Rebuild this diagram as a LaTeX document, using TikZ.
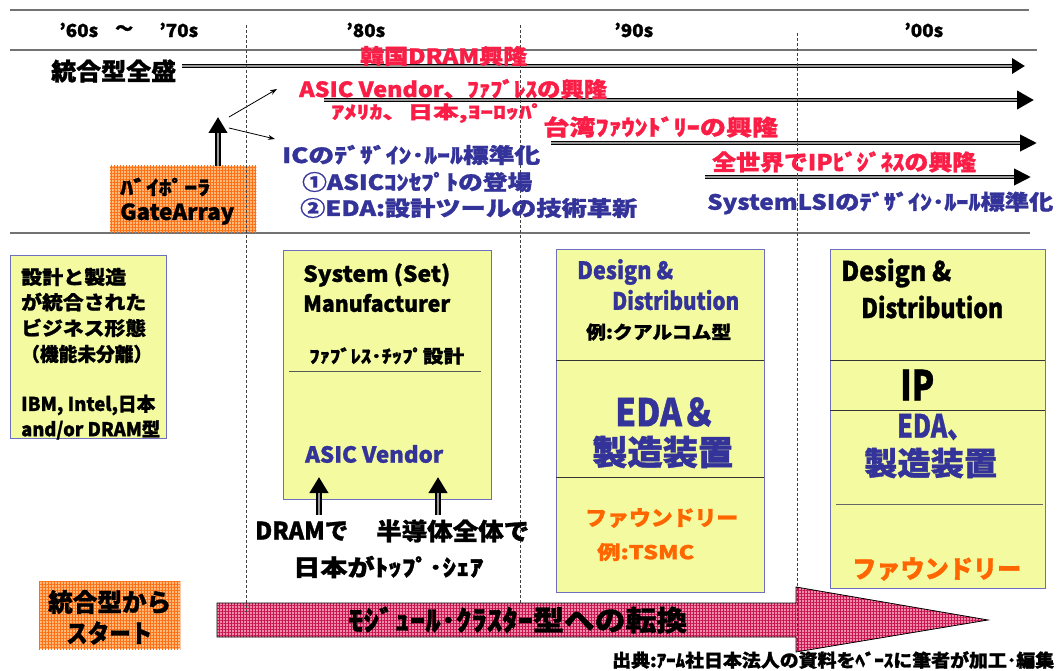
\documentclass[tikz,border=0pt]{standalone}
\usepackage{fontspec}
\setmainfont{Noto Sans CJK JP}[BoldFeatures={FakeBold=1.2}]
\usepackage{graphicx}
\usetikzlibrary{arrows.meta,patterns.meta}
\definecolor{redt}{RGB}{250,30,70}
\definecolor{bluet}{RGB}{51,51,153}
\definecolor{yel}{RGB}{243,250,160}
\definecolor{bord}{RGB}{110,110,190}
\definecolor{orgbase}{RGB}{255,185,120}
\definecolor{orgline}{RGB}{255,110,20}
\definecolor{pinkbase}{RGB}{238,140,170}
\definecolor{pinkline}{RGB}{200,20,80}
\definecolor{orat}{RGB}{255,102,0}
\newcommand{\tw}[3]{\resizebox{#1pt}{\height}{\fontsize{#2pt}{#2pt}\selectfont\bfseries #3}}
\begin{document}
\begin{tikzpicture}[x=1pt,y=-1pt,
  txt/.style={inner sep=0pt,anchor=west},
  hline/.style={draw=black!55,line width=1.5pt},
  vdash/.style={draw=black!75,dash pattern=on 3pt off 2pt,line width=0.7pt},
  ybox/.style={draw=bord,fill=yel,line width=1.2pt,inner sep=0pt,anchor=north west},
  obox/.style={fill=orgbase,pattern color=orgline,inner sep=0pt,anchor=north west},
  divline/.style={draw=black!80,line width=1pt},
  tline/.style={line width=4pt,draw=black},
  tinner/.style={line width=1.3pt,draw=black!40},
  uparrow/.style={line width=6pt,draw=black,-{Triangle[length=16pt,width=18pt]}},
  thinarrow/.style={line width=0.8pt,-{Stealth[length=7pt,width=5pt]}}
]
\useasboundingbox (0,0) rectangle (1057,671);
\fill[white] (0,0) rectangle (1057,671);

% header lines
\draw[hline] (10,10) -- (1029,10);
\draw[hline] (10,50) -- (1037,50);
\draw[hline] (10,233) -- (1030,233);

% boxes
\node[ybox,minimum width=156pt,minimum height=183pt] (lbox) at (10,255) {};
\node[ybox,minimum width=208pt,minimum height=249pt] (mbox) at (283,250) {};
\node[ybox,minimum width=208pt,minimum height=343pt] (box2) at (556,249) {};
\node[ybox,minimum width=215pt,minimum height=339pt] (box3) at (830,249) {};
\draw[divline,draw=black!65] (289,371) -- (481,371);
\draw[divline] (556,360) -- (764,360);
\draw[divline] (556,477) -- (764,477);
\draw[divline] (830,360) -- (1045,360);
\draw[divline] (830,410) -- (1045,410);
\draw[divline,draw=black!60] (836,504) -- (1043,504);

% orange boxes
\node[obox,minimum width=146pt,minimum height=66pt] (bip) at (110,166) {};
\fill[pattern={Hatch[angle=0,distance=3pt,line width=0.6pt]},pattern color=orgline] (bip.south west) rectangle (bip.north east);
\node[obox,minimum width=141pt,minimum height=68pt] (start) at (39,581) {};
\fill[pattern={Hatch[angle=0,distance=3pt,line width=0.6pt]},pattern color=orgline] (start.south west) rectangle (start.north east);

% pink big arrow
\path[fill=pinkbase] (217,603) -- (796,603) -- (796,587) -- (988,620) -- (796,652) -- (796,637) -- (217,637) -- cycle;
\path[pattern={Hatch[angle=0,distance=3pt,line width=0.6pt]},pattern color=pinkline] (217,603) -- (796,603) -- (796,587) -- (988,620) -- (796,652) -- (796,637) -- (217,637) -- cycle;
\draw[line width=0.8pt] (217,603) -- (796,603) -- (796,587) -- (988,620) -- (796,652) -- (796,637) -- (217,637) -- cycle;

% timeline arrows
\coordinate (a1s) at (182,66); \coordinate (a1e) at (1025,66);
\coordinate (a2s) at (324,100); \coordinate (a2e) at (1034,100);
\coordinate (a3s) at (551,143); \coordinate (a3e) at (1037,143);
\coordinate (a4s) at (705,177); \coordinate (a4e) at (1031,177);
\draw[tline,-{Triangle[length=13pt,width=15pt]}] (a1s) -- (a1e);
\draw[tinner,shorten >=13pt] (a1s) -- (a1e);
\draw[tline,-{Triangle[length=17pt,width=18pt]}] (a2s) -- (a2e);
\draw[tinner,shorten >=17pt] (a2s) -- (a2e);
\draw[tline,-{Triangle[length=17pt,width=16pt]}] (a3s) -- (a3e);
\draw[tinner,shorten >=17pt] (a3s) -- (a3e);
\draw[tline,-{Triangle[length=17pt,width=16pt]}] (a4s) -- (a4e);
\draw[tinner,shorten >=17pt] (a4s) -- (a4e);

% up arrows
\coordinate (u1s) at (218,166); \coordinate (u1e) at (218,117);
\coordinate (u2s) at (319,515); \coordinate (u2e) at (319,477);
\coordinate (u3s) at (438,515); \coordinate (u3e) at (438,477);
\foreach \s/\e in {u1s/u1e,u2s/u2e,u3s/u3e}{
  \draw[uparrow] (\s) -- (\e);
  \draw[line width=2pt,draw=black!40,shorten >=16pt] (\s) -- (\e);
}
% thin arrows
\coordinate (t0a) at (229,117); \coordinate (t1) at (277,89);
\coordinate (t0b) at (229,128); \coordinate (t2) at (275,139);
\draw[thinarrow] (t0a) -- (t1);
\draw[thinarrow] (t0b) -- (t2);

% dashed lines
\coordinate (v1a) at (246,25); \coordinate (v1b) at (246,612);
\coordinate (v2a) at (520,25); \coordinate (v2b) at (520,603);
\coordinate (v3a) at (797,33); \coordinate (v3b) at (797,650);
\draw[vdash] (v1a) -- (v1b);
\draw[vdash] (v2a) -- (v2b);
\draw[vdash] (v3a) -- (v3b);

% header text
\node[txt] (d60) at (59,30) {\tw{39}{18}{’60s}};
\node[txt] (dtil) at (115,30) {\tw{18}{18}{～}};
\node[txt] (d70) at (159,30) {\tw{39}{18}{’70s}};
\node[txt] (d80) at (346,30) {\tw{39}{18}{’80s}};
\node[txt] (d90) at (614,30) {\tw{39}{18}{’90s}};
\node[txt] (d00) at (904,30) {\tw{39}{18}{’00s}};

% timeline text
\node[txt] (zen) at (51,71) {\tw{125}{24}{統合型全盛}};
\node[txt,text=redt] (kan) at (360,56) {\tw{167}{21}{韓国DRAM興隆}};
\node[txt,text=redt] (asv) at (299,89) {\tw{308}{21}{ASIC Vendor、ﾌｧﾌﾞﾚｽの興隆}};
\node[txt,text=redt] (ame) at (331,113) {\tw{213}{18}{ｱﾒﾘｶ、日本,ﾖｰﾛｯﾊﾟ}};
\node[txt,text=redt] (tai) at (543,127) {\tw{235}{22}{台湾ﾌｧｳﾝﾄﾞﾘｰの興隆}};
\node[txt,text=redt] (ipb) at (712,162) {\tw{264}{22}{全世界でIPﾋﾞｼﾞﾈｽの興隆}};
\node[txt,text=bluet] (slsi) at (707,203) {\tw{346}{21}{SystemLSIのﾃﾞｻﾞｲﾝ･ﾙｰﾙ標準化}};
\node[txt,text=bluet] (ic) at (282,155) {\tw{258}{21}{ICのﾃﾞｻﾞｲﾝ･ﾙｰﾙ標準化}};
\node[txt,text=bluet] (ic1) at (302,182) {\tw{230}{21}{①ASICｺﾝｾﾌﾟﾄの登場}};
\node[txt,text=bluet] (ic2) at (300,208) {\tw{337}{21}{②EDA:設計ツールの技術革新}};
\node[txt] (bip1) at (120,187) {\tw{90}{20}{ﾊﾞｲﾎﾟｰﾗ}};
\node[txt] (bip2) at (120,214) {\tw{114}{22}{GateArray}};

% left box
\node[txt] (l1) at (21,277) {\tw{105}{19}{設計と製造}};
\node[txt] (l2) at (21,302) {\tw{125}{19}{が統合された}};
\node[txt] (l3) at (21,328) {\tw{125}{19}{ビジネス形態}};
\node[txt] (l4) at (21,354) {\tw{131}{19}{（機能未分離）}};
\node[txt] (l5) at (21,405) {\tw{134}{19}{IBM, Intel,日本}};
\node[txt] (l6) at (21,430) {\tw{139}{19}{and/or DRAM型}};

% middle box
\node[txt] (m1) at (303,275) {\tw{147}{22}{System (Set)}};
\node[txt] (m2) at (303,303) {\tw{147}{22}{Manufacturer}};
\node[txt] (m3) at (309,356) {\tw{155}{18}{ﾌｧﾌﾞﾚｽ･ﾁｯﾌﾟ設計}};
\node[txt,text=bluet] (m4) at (305,454) {\tw{138}{22}{ASIC Vendor}};

% box 2
\node[txt,text=bluet] (b21) at (577,272) {\tw{96}{24}{Design \&}};
\node[txt,text=bluet] (b22) at (612,300) {\tw{127}{24}{Distribution}};
\node[txt] (b23) at (586,332) {\tw{145}{18}{例:クアルコム型}};
\node[txt,text=bluet] (b24) at (615,412) {\tw{100}{38}{EDA＆}};
\node[txt,text=bluet] (b25) at (592,452) {\tw{141}{34}{製造装置}};
\node[txt,text=orat] (b26) at (585,518) {\tw{153}{21}{ファウンドリー}};
\node[txt,text=orat] (b27) at (597,552) {\tw{97}{19}{例:TSMC}};

% box 3
\node[txt] (b31) at (841,273) {\tw{110}{27}{Design \&}};
\node[txt] (b32) at (861,307) {\tw{142}{27}{Distribution}};
\node[txt] (b33) at (900,385) {\tw{34}{41}{IP}};
\node[txt,text=bluet] (b34) at (897,427) {\tw{75}{32}{EDA、}};
\node[txt,text=bluet] (b35) at (864,463) {\tw{133}{32}{製造装置}};
\node[txt,text=orat] (b36) at (852,569) {\tw{169}{25}{ファウンドリー}};

% bottom
\node[txt] (bt1) at (255,531) {\tw{93}{24}{DRAMで}};
\node[txt] (bt2) at (376,531) {\tw{153}{24}{半導体全体で}};
\node[txt] (bt3) at (293,567) {\tw{190}{23}{日本がﾄｯﾌﾟ･ｼｪｱ}};
\node[txt] (st1) at (48,602) {\tw{123}{25}{統合型から}};
\node[txt] (st2) at (66,633) {\tw{86}{25}{スタート}};
\node[txt] (mod) at (348,620) {\tw{339}{28}{ﾓｼﾞｭｰﾙ･ｸﾗｽﾀｰ型への転換}};
\node[txt] (src) at (612,660) {\tw{442}{18}{出典:ｱｰﾑ社日本法人の資料をﾍﾞｰｽに筆者が加工･編集}};
\end{tikzpicture}
\end{document}
